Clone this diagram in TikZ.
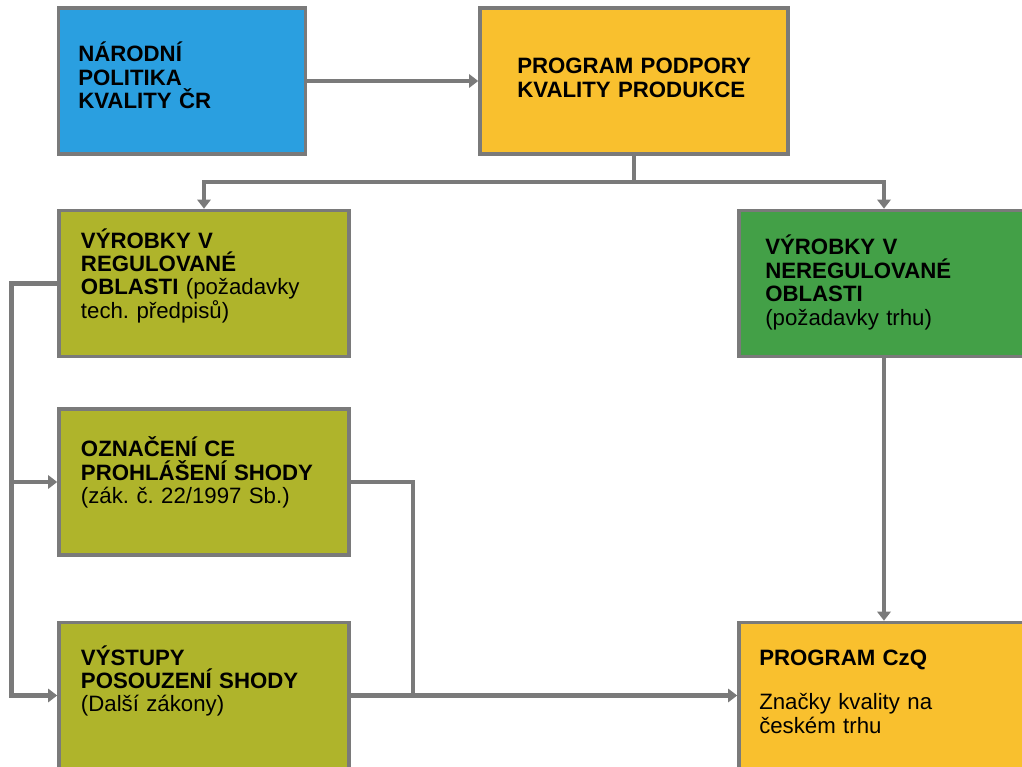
\documentclass[tikz,border=0pt]{standalone}
\usepackage{fontspec}
\setmainfont{Liberation Sans}
\usepackage{xcolor}
\definecolor{framegray}{HTML}{7A7A7A}
\definecolor{boxblue}{HTML}{2A9FE0}
\definecolor{boxamber}{HTML}{F9C02E}
\definecolor{boxolive}{HTML}{AFB42B}
\definecolor{boxgreen}{HTML}{43A047}
\usepackage{tikz}
\usetikzlibrary{arrows.meta}
\frenchspacing

\begin{document}
\begin{tikzpicture}[x=0.025cm, y=-0.025cm,
    box/.style={draw=framegray, line width=2.5pt, inner sep=0pt, minimum height=3.65cm},
    txt/.style={anchor=base west, align=left, text width=7cm, inner sep=0pt,
      font=\fontsize{15.8}{16.6}\selectfont},
    link/.style={draw=framegray, line width=3.2pt},
    arr/.style={link, -{Triangle[length=6.5pt, width=9.5pt]}}]
  \clip (0,0) rectangle (1022,767);
  \fill[white] (0,0) rectangle (1022,767);

  % boxes
  \node[box, fill=boxblue, minimum width=6.175cm] (nat) at (182,81) {};
  \node[box, fill=boxamber, minimum width=7.7cm] (ppk) at (634,81) {};
  \node[box, fill=boxolive, minimum width=7.25cm] (reg) at (204,283.5) {};
  \node[box, fill=boxgreen, minimum width=7.25cm] (nereg) at (884,283.5) {};
  \node[box, fill=boxolive, minimum width=7.25cm] (ce) at (204,482) {};
  \node[box, fill=boxolive, minimum width=7.25cm] (vyst) at (204,695.5) {};
  \node[box, fill=boxamber, minimum width=7.25cm] (czq) at (884,695.5) {};

  % texts
  \node[txt] (nat-t) at (78,61.7) {\textbf{NÁRODNÍ}\\\textbf{POLITIKA}\\\textbf{KVALITY ČR}};
  \node[txt] (ppk-t) at (517,74) {\textbf{PROGRAM PODPORY}\\\textbf{KVALITY PRODUKCE}};
  \node[txt] (reg-t) at (80.7,248.3) {\textbf{VÝROBKY V}\\\textbf{REGULOVANÉ}\\\textbf{OBLASTI} (požadavky\\tech. předpisů)};
  \node[txt] (nereg-t) at (765,255) {\textbf{VÝROBKY V}\\\textbf{NEREGULOVANÉ}\\\textbf{OBLASTI}\\(požadavky trhu)};
  \node[txt] (ce-t) at (80.7,456.7) {\textbf{OZNAČENÍ CE}\\\textbf{PROHLÁŠENÍ SHODY}\\(zák. č. 22/1997 Sb.)};
  \node[txt] (vyst-t) at (80.7,665) {\textbf{VÝSTUPY}\\\textbf{POSOUZENÍ SHODY}\\(Další zákony)};
  \node[txt] (czq-t) at (759,665) {\textbf{PROGRAM CzQ}\\[15.4pt]Značky kvality na\\českém trhu};

  % connectors
  \coordinate (split) at (634,182);
  \coordinate (lt) at (11.5,283.5);
  \coordinate (lb) at (11.5,695.5);
  \coordinate (rj) at (413,695.5);
  \draw[arr] (nat.east) -- (ppk.west);
  \draw[link] (ppk.south) -- (split);
  \draw[arr] (split) -| (reg.north);
  \draw[arr] (split) -| (nereg.north);
  \draw[arr] (reg.west) -- (lt) -- (lb) -- (vyst.west);
  \draw[arr] (lt |- ce.west) -- (ce.west);
  \draw[link] (ce.east) -| (rj);
  \draw[arr] (vyst.east) -- (czq.west);
  \draw[arr] (nereg.south) -- (czq.north);
\end{tikzpicture}
\end{document}
